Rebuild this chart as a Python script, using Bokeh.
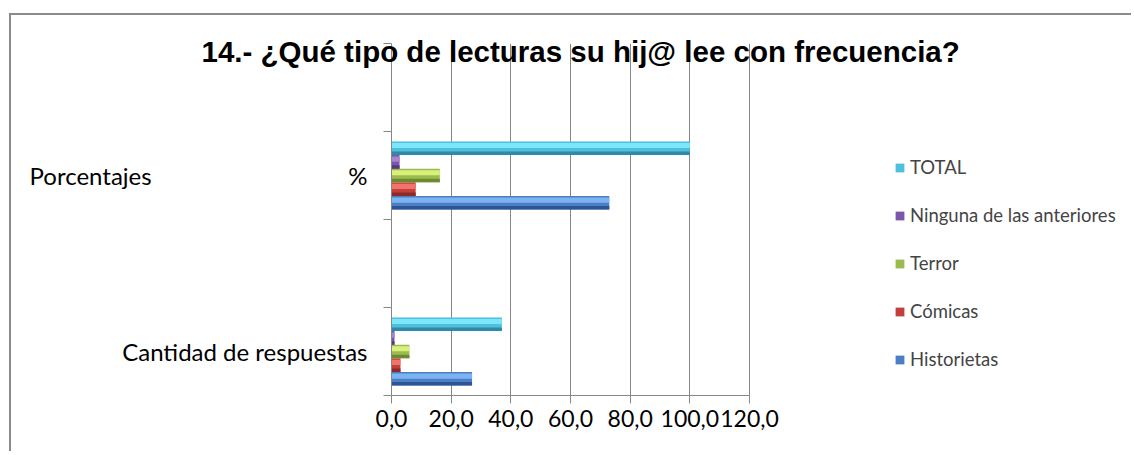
from bokeh.plotting import figure
from bokeh.models import ColumnDataSource, FixedTicker, Legend, LegendItem
from bokeh.transform import dodge
from bokeh.embed import file_html
from bokeh.resources import INLINE

# ---- data ----
categories = ["Cantidad de respuestas", "", "Porcentajes" + "\u00a0" * 32 + "%", ""]
series = ["Historietas", "Cómicas", "Terror", "Ninguna de las anteriores", "TOTAL"]
historietas = [27, None, 73.0, None]
comicas = [3, None, 8.1, None]
terror = [6, None, 16.2, None]
ninguna = [1, None, 2.7, None]
total = [37, None, 100.0, None]
x_ticks = [0, 20, 40, 60, 80, 100, 120]
x_tick_labels = ["0,0", "20,0", "40,0", "60,0", "80,0", "100,0", "120,0"]
title_text = "14.- ¿Qué tipo de lecturas su hij@ lee con frecuencia?"

# ---- styles ----
mid = ["#4a7fc8", "#c23f3b", "#9bbb4f", "#7d55a8", "#4cc0dc"]
light = ["#7db4f0", "#f2736d", "#d9f07a", "#a483d0", "#7ce7fa"]
dark = ["#2d5690", "#8c2a27", "#6d8a30", "#553a7e", "#2f8aa3"]
offsets = [-0.31, -0.155, 0.0, 0.155, 0.31]
bar_h = 0.155

cols = {"Historietas": historietas, "Cómicas": comicas, "Terror": terror,
        "Ninguna de las anteriores": ninguna, "TOTAL": total}
ypos = [i + 0.5 for i in range(len(categories))]
data = {"y": ypos}
for k, (s, vals) in enumerate(cols.items()):
    data["s%d" % k] = [v if v is not None else 0 for v in vals]
src = ColumnDataSource(data)

# frame extends right to host the legend; the value axis is bounded to 0..120
p = figure(width=1122, height=438, output_backend="svg", toolbar_location=None,
           x_range=(0, 248.7), y_range=(0, 4),
           min_border_left=380, min_border_right=0, min_border_top=28, min_border_bottom=58)
p.margin = (13, 0, 0, 9)
p.styles = {"border-top": "2px solid #8a8a8a", "border-left": "2px solid #8a8a8a"}
p.outline_line_color = None
p.background_fill_color = "white"
p.border_fill_color = "white"

# title
p.title.text = title_text
p.title.text_font = "Liberation Sans"
p.title.text_font_style = "bold"
p.title.text_font_size = "29.5px"
p.title.text_color = "black"
p.title.align = "left"
p.title.offset = -190
p.title.vertical_align = "bottom"
p.title.standoff = -48

legend_items = []
for k, s in enumerate(series):
    field = "s%d" % k
    off = offsets[k]
    r = p.hbar(y=dodge("y", off, range=p.y_range), right=field, left=0, height=bar_h,
               source=src, fill_color=mid[k], line_color=None)
    p.hbar(y=dodge("y", off + 0.2 * bar_h, range=p.y_range), right=field, left=0,
           height=0.38 * bar_h, source=src, fill_color=light[k], line_color=None)
    p.hbar(y=dodge("y", off - 0.37 * bar_h, range=p.y_range), right=field, left=0,
           height=0.26 * bar_h, source=src, fill_color=dark[k], line_color=None)
    legend_items.append(LegendItem(label=s, renderers=[r]))

legend = Legend(items=list(reversed(legend_items)), location=(503, 23),
                label_text_font="Lato", label_text_font_size="18.5px",
                glyph_width=11, glyph_height=11, label_height=26, spacing=22,
                padding=0, margin=0, label_standoff=5,
                background_fill_alpha=0, border_line_color=None)
p.add_layout(legend)

# x axis
p.xaxis.bounds = (x_ticks[0], x_ticks[-1])
p.xaxis.ticker = FixedTicker(ticks=x_ticks)
p.xaxis.major_label_overrides = {t: l for t, l in zip(x_ticks, x_tick_labels)}
p.xaxis.axis_line_color = "#868686"
p.xaxis.major_tick_line_color = "#868686"
p.xaxis.major_tick_out = 8
p.xaxis.major_tick_in = 0
p.xaxis.minor_tick_line_color = None
p.xaxis.major_label_text_font = "Lato"
p.xaxis.major_label_text_font_size = "23px"
p.xaxis.major_label_text_color = "black"
p.xaxis.major_label_standoff = 6

# y axis
label_pos = [y for y, c in zip(ypos, categories) if c]
p.yaxis.ticker = FixedTicker(ticks=label_pos, minor_ticks=list(range(len(categories) + 1)))
p.yaxis.major_label_overrides = {y: c for y, c in zip(ypos, categories) if c}
p.yaxis.axis_line_color = "#868686"
p.yaxis.major_tick_out = 0
p.yaxis.major_tick_in = 0
p.yaxis.minor_tick_out = 8
p.yaxis.minor_tick_in = 0
p.yaxis.minor_tick_line_color = "#868686"
p.yaxis.major_label_text_font = "Lato"
p.yaxis.major_label_text_font_size = "24px"
p.yaxis.major_label_text_color = "black"
p.yaxis.major_label_standoff = 16

p.xgrid.grid_line_color = "#868686"
p.xgrid.ticker = FixedTicker(ticks=x_ticks)
p.ygrid.grid_line_color = None

open("out.html", "w").write(file_html(p, INLINE))
